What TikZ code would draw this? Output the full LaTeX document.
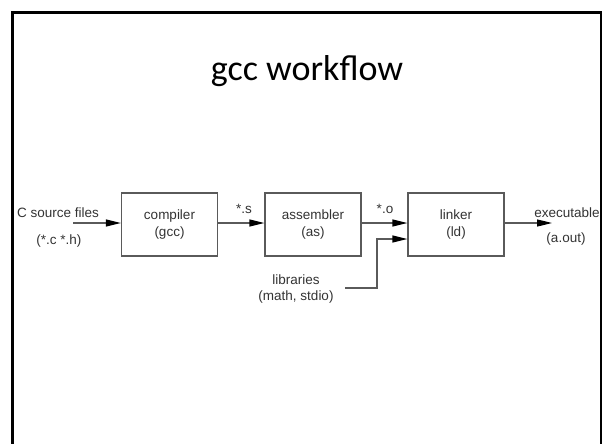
\documentclass[tikz,border=0pt]{standalone}
\usepackage{fontspec}
\setmainfont{Liberation Sans}
\newfontfamily\titlefont{Carlito}
\usetikzlibrary{arrows.meta}
\definecolor{boxgray}{HTML}{5A5A5A}
\definecolor{txtgray}{HTML}{333333}

\begin{document}
\begin{tikzpicture}[x=1pt,y=-1pt,
  stage/.style={draw=boxgray, line width=1.2pt, minimum width=96pt, minimum height=63pt,
    inner sep=0pt, align=center, text=txtgray, font=\fontsize{13.5}{17}\selectfont},
  lbl/.style={inner sep=0pt, text=txtgray, font=\fontsize{13.5}{17}\selectfont},
  flow/.style={draw=boxgray, line width=1.2pt,
    -{Triangle[length=15pt,width=7pt,color=black]}},
  plain/.style={draw=boxgray, line width=1.2pt}]
\useasboundingbox (0,0) rectangle (602,444);
\clip (0,0) rectangle (602,444);

% title
\node[anchor=base, inner sep=0pt, font=\titlefont\fontsize{36}{40}\selectfont] (title) at (307,81) {gcc workflow};

% pipeline stages
\node[stage] (cc) at (169.5,224.5) {compiler\\(gcc)};
\node[stage] (as) at (313,224.5) {assembler\\(as)};
\node[stage] (ld) at (456,224.5) {linker\\(ld)};

% outer labels
\node[lbl] (srcA) at (58,213) {C source files};
\node[lbl] (srcB) at (59,241) {(*.c *.h)};
\node[lbl] (exA) at (567,213) {executable};
\node[lbl] (exB) at (566,239) {(a.out)};
\node[lbl] (sfile) at (244,209) {*.s};
\node[lbl] (ofile) at (385,209) {*.o};
\node[lbl] (libA) at (296,280) {libraries};
\node[lbl] (libB) at (296,297) {(math, stdio)};

% connector ends
\coordinate (srcin) at (73,223);
\coordinate (exout) at (552,223);
\coordinate (libend) at (345,288);
\coordinate (ldlow) at ([yshift=-14.5pt]ld.west);

% flow arrows
\draw[flow] (srcin) -- ([yshift=1.5pt]cc.west);
\draw[flow] ([yshift=1.5pt]cc.east) -- ([yshift=1.5pt]as.west);
\draw[flow] ([yshift=1.5pt]as.east) -- ([yshift=1.5pt]ld.west);
\draw[flow] (libend) -| (377,239) -- (ldlow);
\draw[flow] ([yshift=1.5pt]ld.east) -- (exout);

% slide frame
\draw[line width=2.5pt, black] (12.5,460) -- (12.5,12.5) -- (601,12.5) -- (601,460);
\end{tikzpicture}
\end{document}
